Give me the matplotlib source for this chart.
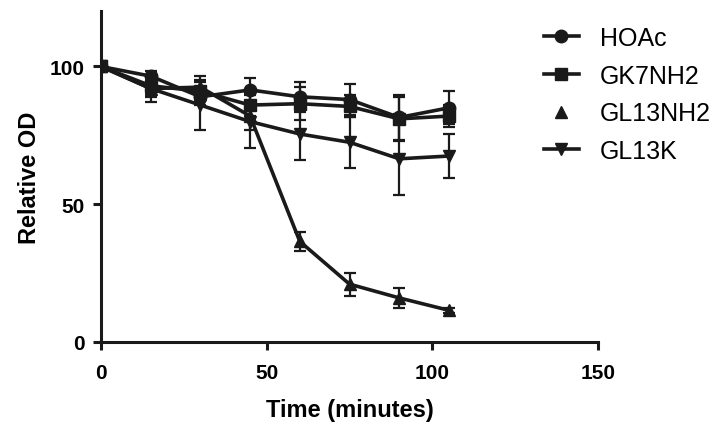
import matplotlib.pyplot as plt
from matplotlib.lines import Line2D

plt.rcParams["font.family"] = ["Liberation Sans", "DejaVu Sans"]

time_min = [0, 15, 30, 45, 60, 75, 90, 105]

hoac = [100, 96.5, 89, 91.5, 89, 88, 81.5, 85]
hoac_err = [0, 2.0, 3.0, 4.5, 5.5, 5.5, 8.0, 6.0]

gk7nh2 = [100, 93, 91, 86, 86.5, 85.5, 81, 82]
gk7nh2_err = [0, 3.0, 3.5, 4.0, 6.0, 4.0, 8.0, 4.0]

gl13nh2 = [100, 92, 92.5, 82, 36.5, 21, 16, 11.5]
gl13nh2_err = [0, 3.0, 4.0, 5.0, 3.6, 4.2, 3.5, 1.0]

gl13k = [100, 92, 86, 80, 75.5, 72.5, 66.5, 67.5]
gl13k_err = [0, 5.0, 9.0, 9.5, 9.5, 9.2, 13.0, 8.0]

labels = ["HOAc", "GK7NH2", "GL13NH2", "GL13K"]
markers = ["o", "s", "^", "v"]

fig = plt.figure(figsize=(7.24, 4.35), dpi=100)
ax = fig.add_axes([0.1395, 0.2115, 0.6865, 0.76])

series = [(hoac, hoac_err), (gk7nh2, gk7nh2_err), (gl13nh2, gl13nh2_err), (gl13k, gl13k_err)]
for (vals, errs), m in zip(series, markers):
    ax.errorbar(time_min, vals, yerr=errs, color="#1a1a1a", marker=m, markersize=9,
                linewidth=2.6, elinewidth=1.6, capsize=4, capthick=1.6, zorder=3)

ax.set_xlim(0, 150)
ax.set_ylim(0, 120)
ax.set_xticks([0, 50, 100, 150])
ax.set_yticks([0, 50, 100])
ax.spines["top"].set_visible(False)
ax.spines["right"].set_visible(False)
for s in ["left", "bottom"]:
    ax.spines[s].set_linewidth(2.2)
    ax.spines[s].set_color("#1a1a1a")
ax.tick_params(width=2.2, length=6, labelsize=15, color="#1a1a1a", pad=6)
ax.tick_params(axis="x", pad=9)
for lbl in ax.get_xticklabels() + ax.get_yticklabels():
    lbl.set_fontweight("bold")
ax.set_xlabel("Time (minutes)", fontsize=17, fontweight="bold", labelpad=12)
ax.set_ylabel("Relative OD", fontsize=17, fontweight="bold", labelpad=6)

# legend: GL13NH2 shown as marker only, like the original
handles = []
for lab, m in zip(labels, markers):
    ls = "none" if lab == "GL13NH2" else "-"
    handles.append(Line2D([], [], color="#1a1a1a", marker=m, markersize=9,
                          linewidth=2.6, linestyle=ls, label=lab))
leg = fig.legend(handles=handles, loc="upper left", bbox_to_anchor=(0.72, 0.99),
                 frameon=False, prop={"family": "Liberation Sans", "size": 18},
                 handlelength=1.4, handletextpad=0.85, labelspacing=0.55)

fig.savefig("out.png", dpi=100)
